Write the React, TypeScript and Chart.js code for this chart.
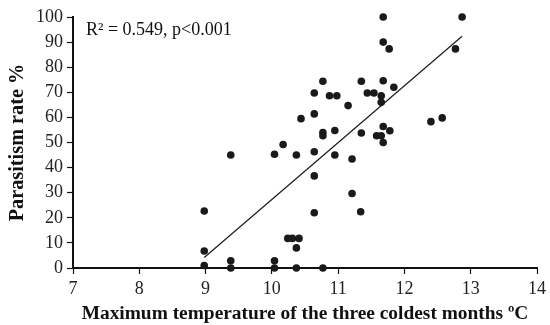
import React, { useEffect, useRef } from "react";
import { Chart, registerables } from "chart.js";

Chart.register(...registerables);

const tempX = [
  8.98, 8.98, 8.98, 9.38, 9.38, 9.38, 10.04, 10.04, 10.04, 10.17,
  10.24, 10.31, 10.41, 10.37, 10.37, 10.37, 10.44, 10.64, 10.64, 10.64,
  10.64, 10.64, 10.77, 10.77, 10.77, 10.77, 10.87, 10.98, 10.95, 10.95,
  11.15, 11.21, 11.21, 11.35, 11.35, 11.34, 11.44, 11.54, 11.58, 11.65,
  11.65, 11.65, 11.68, 11.68, 11.68, 11.68, 11.68, 11.78, 11.77, 11.84,
  12.4, 12.57, 12.77, 12.87,
];
const parasitism = [
  22.7, 6.8, 1, 45, 2.9, 0, 45.3, 2.9, 0, 49.2,
  11.8, 11.8, 11.8, 8, 0, 45, 59.5, 69.7, 61.4, 46.3,
  36.7, 22, 74.4, 54, 52.7, 0, 68.6, 68.6, 54.8, 45,
  64.7, 43.4, 29.7, 74.4, 53.8, 22.4, 69.7, 69.7, 52.7, 52.7,
  68.6, 66, 100, 90, 74.6, 56.4, 50, 54.7, 87.3, 72,
  58.3, 59.8, 87.3, 100,
];
const fitX = [8.98, 12.87];
const fitY = [4.2, 92.3];
const xTicks = [7, 8, 9, 10, 11, 12, 13, 14];
const yTicks = [0, 10, 20, 30, 40, 50, 60, 70, 80, 90, 100];
const annotationText = "R² = 0.549, p<0.001";
const xTitle = "Maximum temperature of the three coldest months ºC";
const yTitle = "Parasitism rate %";

const FONT = "'Liberation Serif', 'Times New Roman', serif";

export default function App() {
  const ref = useRef<HTMLCanvasElement | null>(null);

  useEffect(() => {
    document.body.style.margin = "0";
    const canvas = ref.current;
    if (!canvas) return;

    const annotationPlugin = {
      id: "r2text",
      afterDatasetsDraw(chart: any) {
        const { ctx, chartArea } = chart;
        ctx.save();
        ctx.fillStyle = "#111";
        ctx.font = `18px ${FONT}`;
        ctx.textBaseline = "middle";
        ctx.textAlign = "left";
        ctx.fillText(annotationText, chartArea.left + 13, chartArea.top + 13);
        ctx.restore();
      },
    };

    const chart = new Chart(canvas, {
      type: "scatter",
      data: {
        datasets: [
          {
            label: "Sites",
            data: tempX.map((x, i) => ({ x, y: parasitism[i] })),
            backgroundColor: "#1a1a1a",
            borderColor: "#1a1a1a",
            pointRadius: 3.8,
            pointHoverRadius: 3.8,
            borderWidth: 0,
            clip: false as any,
          },
          {
            label: "Fit",
            type: "line" as any,
            data: fitX.map((x, i) => ({ x, y: fitY[i] })),
            borderColor: "#1a1a1a",
            borderWidth: 1.2,
            pointRadius: 0,
            showLine: true,
            fill: false,
          },
        ],
      },
      options: {
        animation: false,
        responsive: false,
        maintainAspectRatio: false,
        layout: { padding: { top: 17, right: 12, left: 0, bottom: 0 } },
        plugins: {
          legend: { display: false },
          tooltip: { enabled: false },
        },
        scales: {
          x: {
            type: "linear",
            min: 7,
            max: 14,
            afterBuildTicks: (scale: any) => {
              scale.ticks = xTicks.map((v) => ({ value: v }));
            },
            afterFit: (scale: any) => {
              scale.height = 57;
            },
            border: { display: true, color: "#111", width: 2 },
            grid: {
              display: true,
              drawOnChartArea: false,
              drawTicks: true,
              tickLength: 6,
              color: "#111",
              tickWidth: 1.2,
            },
            ticks: {
              color: "#222",
              font: { family: FONT, size: 18 },
              padding: 4,
              maxRotation: 0,
            },
            title: {
              display: true,
              text: xTitle,
              color: "#111",
              font: { family: FONT, size: 19.4, weight: "bold" },
              padding: { top: 0, bottom: -1 },
            },
          },
          y: {
            type: "linear",
            min: 0,
            max: 100,
            afterBuildTicks: (scale: any) => {
              scale.ticks = yTicks.map((v) => ({ value: v }));
            },
            afterFit: (scale: any) => {
              scale.width = 73;
            },
            border: { display: true, color: "#111", width: 2 },
            grid: {
              display: true,
              drawOnChartArea: false,
              drawTicks: true,
              tickLength: 6,
              color: "#111",
              tickWidth: 1.2,
            },
            ticks: {
              color: "#222",
              font: { family: FONT, size: 18 },
              padding: 4,
            },
            title: {
              display: true,
              text: yTitle,
              color: "#111",
              font: { family: FONT, size: 20.3, weight: "bold" },
              padding: { top: 6, bottom: 2 },
            },
          },
        },
      },
      plugins: [annotationPlugin],
    } as any);

    return () => chart.destroy();
  }, []);

  return (
    <div style={{ width: 550, height: 325 }}>
      <canvas ref={ref} width={550} height={325} style={{ display: "block" }} />
    </div>
  );
}
